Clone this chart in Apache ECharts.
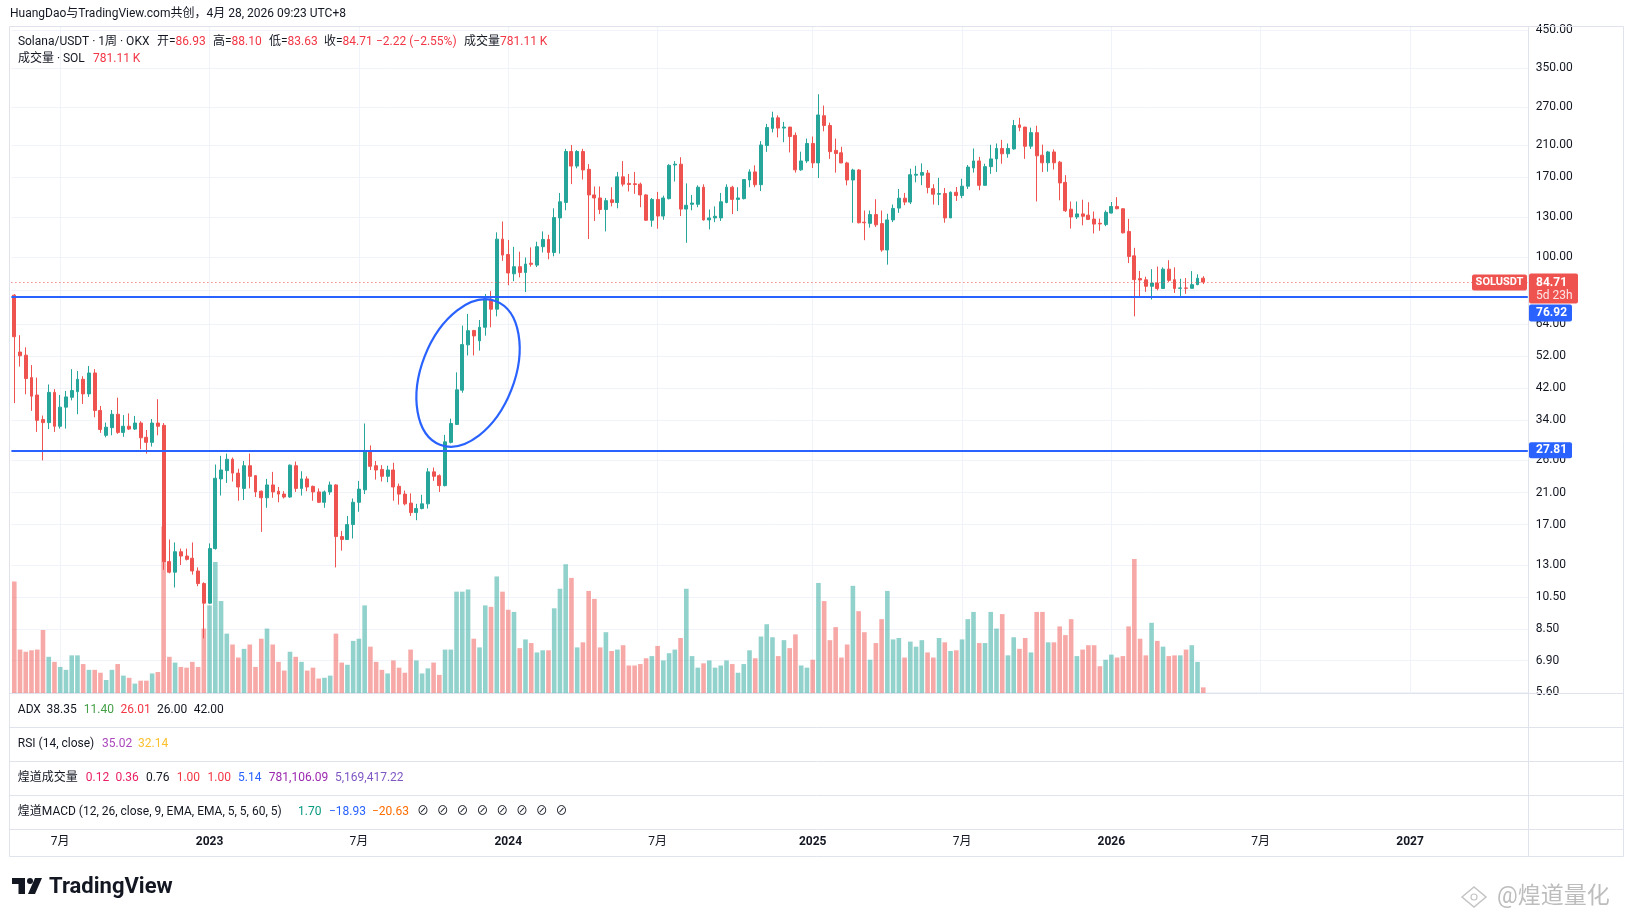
<!DOCTYPE html>
<html>
<head>
<meta charset="utf-8">
<title>Solana/USDT · 1周 · OKX</title>
<script src="https://cdn.jsdelivr.net/npm/echarts@6/dist/echarts.min.js"></script>
<style>
  html, body { margin: 0; padding: 0; background: #ffffff; }
  #chart { width: 1634px; height: 917px; }
</style>
</head>
<body>
<div id="chart"></div>
<script>
// Weekly bars, first bar = week of 2022-05-09 (Monday), last = 2026-04-27
const firstWeek = '2022-05-09';
const totalSlots = 264; // bars + the empty space to the right of the last bar

const opens = [
  77.7, 53.3, 52.2, 45.0, 40.1, 34.1, 33.4, 40.8, 32.6, 37.0,
  39.5, 41.0, 44.5, 40.4, 46.4, 36.2, 30.7, 32.3, 35.3, 31.3,
  32.6, 32.0, 33.3, 30.3, 29.3, 33.3, 32.8, 13.3, 12.4, 14.2,
  13.8, 13.6, 12.5, 11.5, 10.1, 14.5, 23.0, 24.3, 26.2, 23.9,
  21.6, 25.1, 23.5, 21.2, 20.3, 22.1, 21.2, 20.8, 20.4, 25.1,
  21.6, 23.0, 21.9, 21.1, 19.7, 21.1, 22.1, 15.7, 15.4, 17.0,
  19.7, 21.4, 27.6, 25.1, 24.5, 23.4, 24.4, 21.9, 20.8, 19.6,
  18.4, 18.9, 19.5, 24.1, 23.5, 22.0, 29.3, 33.0, 41.4, 55.9,
  61.5, 57.4, 62.8, 75.6, 70.8, 112.6, 101.7, 89.5, 93.8, 90.3,
  96.0, 94.8, 107.1, 112.4, 103.1, 129.6, 143.6, 201.2, 182.7, 201.2,
  178.8, 150.9, 147.9, 137.0, 146.1, 143.5, 170.1, 162.9, 162.5, 162.1,
  150.9, 127.6, 146.5, 131.2, 147.2, 184.0, 185.0, 137.4, 141.8, 141.8,
  158.8, 127.9, 129.6, 129.6, 143.5, 158.8, 146.5, 147.2, 166.6, 175.8,
  161.5, 209.3, 234.5, 251.5, 235.0, 236.5, 223.9, 178.2, 189.0, 212.2,
  186.6, 255.0, 239.0, 202.7, 199.5, 186.5, 166.6, 178.0, 126.0, 125.0,
  132.5, 124.8, 104.8, 127.9, 138.3, 147.7, 143.9, 172.0, 172.0, 174.4,
  157.3, 151.6, 152.3, 129.6, 153.6, 150.3, 159.9, 180.4, 189.0, 160.8,
  182.0, 191.6, 205.3, 198.2, 204.7, 240.0, 236.5, 208.5, 228.0, 196.3,
  186.7, 200.6, 187.5, 164.0, 137.3, 130.4, 133.1, 132.0, 128.6, 125.1,
  124.0, 133.8, 139.8, 137.7, 118.5, 100.8, 86.7, 86.0, 82.4, 84.2,
  81.2, 92.3, 86.1, 81.3, 81.5, 81.3, 83.3, 86.93
];

const highs = [
  78.2, 59.6, 55.0, 48.9, 45.0, 35.0, 43.0, 41.7, 40.1, 41.2,
  47.6, 47.0, 45.4, 48.6, 47.6, 37.3, 33.4, 36.3, 39.4, 35.1,
  35.5, 34.9, 33.7, 31.8, 34.2, 39.0, 33.3, 15.4, 15.1, 14.5,
  14.5, 15.1, 12.8, 11.6, 15.0, 25.3, 26.8, 27.2, 26.5, 24.6,
  25.9, 27.2, 23.6, 21.3, 23.0, 24.1, 21.8, 21.2, 25.3, 25.8,
  24.2, 23.4, 22.0, 21.6, 21.3, 22.6, 22.2, 16.3, 18.0, 20.2,
  22.7, 33.2, 28.7, 25.9, 25.2, 25.1, 25.6, 22.3, 21.3, 20.9,
  19.5, 20.7, 24.7, 24.8, 23.7, 30.8, 34.3, 46.6, 63.5, 68.6,
  61.7, 65.9, 78.3, 79.9, 117.8, 126.5, 112.0, 107.0, 103.6, 99.7,
  106.6, 110.7, 118.5, 115.9, 138.1, 152.9, 204.8, 210.1, 203.0, 204.8,
  185.0, 159.6, 159.6, 147.9, 158.8, 175.8, 188.8, 173.3, 175.8, 163.7,
  151.7, 147.9, 154.0, 150.2, 185.0, 188.8, 193.7, 162.9, 150.9, 160.8,
  161.9, 137.0, 139.9, 152.9, 161.9, 160.3, 158.8, 167.1, 178.8, 183.6,
  215.5, 241.6, 261.9, 255.6, 244.8, 236.9, 228.3, 201.0, 219.2, 222.2,
  294.0, 272.8, 243.6, 219.2, 207.6, 188.0, 179.5, 179.0, 136.1, 136.1,
  146.7, 136.1, 133.2, 141.6, 157.0, 152.9, 179.6, 183.0, 186.0, 178.0,
  162.0, 169.0, 158.0, 154.4, 159.0, 168.0, 184.0, 205.3, 194.2, 185.6,
  210.4, 212.2, 217.4, 212.2, 248.0, 251.5, 236.9, 235.7, 238.7, 210.6,
  202.0, 204.0, 189.0, 172.0, 144.5, 144.5, 146.2, 143.8, 135.2, 129.0,
  136.2, 144.0, 148.7, 138.0, 128.8, 106.3, 91.2, 87.8, 92.3, 93.9,
  93.4, 97.9, 93.4, 86.6, 87.0, 91.1, 89.2, 88.10
];

const lows = [
  38.0, 48.4, 40.3, 36.1, 31.4, 26.0, 32.0, 31.4, 32.1, 32.1,
  38.7, 35.3, 37.8, 39.6, 34.6, 31.2, 30.3, 30.7, 31.0, 30.4,
  31.8, 31.8, 28.0, 27.2, 28.5, 30.7, 12.6, 12.3, 11.2, 13.0,
  13.4, 12.2, 11.3, 8.0, 10.05, 14.4, 20.6, 22.4, 22.6, 19.9,
  20.0, 21.6, 20.4, 16.2, 19.0, 20.3, 19.7, 20.2, 20.3, 21.1,
  20.6, 21.2, 19.9, 19.6, 19.0, 20.7, 12.8, 14.3, 15.4, 15.5,
  18.5, 20.8, 24.4, 22.9, 22.6, 22.5, 19.9, 19.4, 19.3, 18.0,
  17.5, 18.8, 18.9, 22.7, 21.1, 21.9, 29.1, 32.9, 40.7, 52.1,
  52.1, 53.8, 59.4, 62.8, 67.5, 97.5, 83.0, 85.2, 87.4, 79.3,
  93.8, 93.6, 103.1, 98.5, 100.5, 102.3, 136.3, 162.1, 180.0, 167.1,
  112.7, 127.0, 132.9, 118.5, 139.9, 138.1, 159.6, 154.4, 152.0, 139.1,
  127.0, 122.2, 120.7, 128.0, 146.5, 164.9, 131.2, 109.9, 136.3, 139.1,
  127.3, 120.1, 126.0, 127.0, 142.8, 132.9, 135.6, 146.5, 158.8, 158.8,
  154.8, 200.7, 228.3, 221.0, 214.0, 200.0, 174.9, 177.0, 186.5, 180.4,
  168.8, 230.0, 191.6, 174.9, 186.5, 160.8, 125.5, 125.0, 111.8, 121.5,
  122.0, 103.6, 95.1, 126.0, 134.0, 141.0, 142.0, 164.0, 161.0, 152.5,
  141.6, 141.0, 125.5, 129.6, 145.0, 147.7, 157.0, 174.9, 155.6, 160.8,
  173.5, 175.8, 185.6, 193.1, 203.5, 230.1, 191.6, 204.7, 144.5, 175.6,
  176.0, 178.5, 145.6, 134.8, 120.8, 128.7, 123.4, 128.0, 116.9, 119.0,
  122.7, 133.5, 137.3, 116.9, 96.1, 67.5, 76.8, 79.4, 75.5, 80.2,
  81.2, 84.8, 78.8, 77.2, 78.4, 81.2, 83.0, 83.63
];

const closes = [
  59.0, 52.0, 44.7, 39.8, 33.9, 33.4, 40.8, 32.6, 37.0, 39.6,
  41.3, 44.5, 40.4, 46.4, 36.2, 31.9, 32.4, 35.3, 31.3, 32.6,
  32.0, 33.3, 30.2, 29.3, 33.3, 32.6, 13.3, 12.4, 14.2, 13.8,
  13.5, 12.5, 11.5, 10.1, 14.5, 23.1, 24.4, 26.2, 23.9, 21.8,
  25.1, 23.4, 21.1, 20.3, 22.1, 21.1, 20.8, 20.4, 25.2, 21.6,
  23.0, 21.8, 21.1, 19.7, 21.1, 22.1, 15.7, 15.4, 17.0, 19.7,
  21.5, 27.6, 25.0, 24.4, 23.4, 24.4, 21.8, 20.8, 19.5, 18.4,
  18.9, 19.5, 24.1, 23.4, 22.0, 29.4, 33.2, 41.5, 56.0, 61.4,
  59.3, 62.8, 75.7, 70.8, 112.6, 101.3, 90.0, 93.8, 90.3, 95.5,
  95.3, 107.1, 112.4, 103.1, 129.9, 144.2, 201.2, 182.7, 201.2, 178.1,
  150.9, 147.9, 137.0, 145.3, 143.5, 170.1, 162.1, 161.7, 161.7, 150.9,
  127.6, 146.5, 131.2, 147.9, 183.6, 185.0, 137.4, 140.9, 143.0, 158.8,
  127.9, 129.6, 131.0, 144.2, 158.8, 146.5, 147.9, 167.1, 175.8, 161.5,
  210.1, 235.9, 251.5, 235.0, 236.5, 222.2, 178.2, 189.0, 212.2, 186.6,
  256.3, 239.0, 201.0, 198.5, 186.5, 166.6, 178.0, 125.5, 125.5, 132.5,
  123.8, 104.8, 127.9, 138.0, 147.7, 143.9, 172.5, 173.0, 175.0, 158.6,
  151.6, 152.3, 129.6, 153.6, 150.3, 159.9, 181.5, 189.0, 160.8, 182.0,
  191.6, 205.3, 198.2, 205.3, 239.0, 236.0, 208.3, 228.0, 195.5, 186.7,
  200.6, 186.7, 163.4, 135.9, 130.4, 133.1, 131.0, 128.3, 124.4, 124.5,
  134.5, 139.8, 137.7, 117.4, 100.4, 86.1, 85.9, 82.4, 84.2, 81.2,
  92.3, 85.7, 81.2, 81.5, 81.3, 83.3, 86.9, 84.71
];

// weekly volume, millions of SOL
const volumes = [
  15.4, 6.0, 5.7, 5.9, 6.0, 8.7, 5.0, 4.3, 3.6, 3.2,
  5.2, 5.2, 4.0, 3.2, 3.2, 2.8, 1.8, 3.2, 4.0, 2.4,
  2.1, 1.3, 1.7, 1.7, 2.7, 2.9, 23.0, 5.0, 4.2, 3.6,
  3.5, 4.3, 3.6, 8.9, 12.1, 18.1, 12.7, 8.2, 6.7, 4.9,
  6.1, 6.7, 3.6, 7.5, 8.9, 6.7, 4.3, 3.1, 5.7, 5.0,
  4.3, 3.1, 3.5, 2.0, 2.1, 2.4, 8.2, 4.2, 3.9, 7.2,
  7.5, 12.1, 6.4, 4.3, 3.2, 2.7, 4.5, 3.5, 2.8, 6.0,
  4.5, 2.7, 3.4, 4.2, 2.5, 6.0, 6.0, 14.0, 14.0, 14.3,
  7.5, 6.3, 12.1, 11.9, 16.1, 14.0, 11.5, 11.2, 6.2, 7.4,
  6.9, 5.6, 5.9, 5.9, 11.7, 14.4, 17.8, 15.9, 6.3, 7.0,
  14.1, 13.0, 6.3, 8.4, 5.8, 6.0, 6.6, 3.8, 3.8, 4.0,
  4.8, 5.1, 6.5, 4.5, 5.5, 6.0, 7.6, 14.4, 5.1, 3.5,
  4.1, 4.5, 3.5, 3.8, 4.5, 4.0, 2.8, 4.0, 5.9, 4.8,
  7.8, 9.5, 7.7, 5.1, 7.3, 6.2, 8.1, 3.8, 3.5, 4.6,
  15.2, 12.7, 7.3, 9.1, 4.9, 6.7, 14.8, 11.3, 8.4, 4.6,
  6.9, 10.2, 14.1, 7.4, 7.6, 4.9, 7.1, 6.4, 7.3, 5.6,
  4.9, 7.6, 7.0, 5.8, 5.9, 7.4, 10.2, 11.2, 6.9, 6.9,
  11.2, 8.9, 10.9, 5.2, 7.7, 6.1, 7.6, 5.6, 11.2, 11.2,
  7.0, 7.0, 9.2, 8.0, 10.2, 5.1, 6.0, 6.6, 6.6, 3.7,
  4.6, 5.3, 4.9, 5.1, 9.2, 18.5, 7.5, 5.2, 9.7, 7.2,
  6.4, 5.1, 5.2, 5.2, 6.0, 6.6, 4.3, 0.78
];

// price scale labels (log axis)
const priceTicks = [5.6, 6.9, 8.5, 10.5, 13, 17, 21, 26, 34, 42, 52, 64, 80, 100, 130, 170, 210, 270, 350, 450];
const levelLines = [76.92, 27.81];
const lastPrice = 84.71;

const UP = '#26a69a';
const DOWN = '#ef5350';
const BLUE = '#2962ff';
const INK = '#131722';
const BORDER = '#e0e3eb';
const GRID = '#f0f3fa';
const FONT = 'Roboto, "Noto Sans CJK SC", sans-serif';

function weekDates(start, count) {
  const t0 = Date.parse(start + 'T00:00:00Z');
  const out = [];
  for (let i = 0; i < count; i++) {
    out.push(new Date(t0 + i * 7 * 86400000).toISOString().slice(0, 10));
  }
  return out;
}

// first weekly bar of January / July gets a label + vertical grid line
function isPeriodStart(value) {
  const d = new Date(value + 'T00:00:00Z');
  return d.getUTCDate() <= 7 && (d.getUTCMonth() === 0 || d.getUTCMonth() === 6);
}

const dates = weekDates(firstWeek, totalSlots);
const candleData = opens.map((o, i) => [o, closes[i], lows[i], highs[i]]);
const volumeData = volumes.map((v, i) => ({
  value: v,
  itemStyle: { color: closes[i] >= opens[i] ? 'rgba(38,166,154,0.5)' : 'rgba(239,83,80,0.5)' }
}));

const chart = echarts.init(document.getElementById('chart'));

chart.setOption({
  animation: false,
  backgroundColor: '#ffffff',
  grid: { left: 11.4, top: 27, width: 1516.4, height: 666, containLabel: false, outerBoundsMode: 'none' },
  xAxis: {
    type: 'category',
    data: dates,
    boundaryGap: true,
    axisLine: { show: false },
    axisTick: { show: false, alignWithLabel: true },
    axisLabel: {
      interval: (idx, val) => isPeriodStart(val),
      margin: 143,
      color: INK,
      fontSize: 12,
      fontFamily: FONT,
      formatter: function (val) {
        const d = new Date(val + 'T00:00:00Z');
        return d.getUTCMonth() === 0 ? '{y|' + d.getUTCFullYear() + '}' : '7月';
      },
      rich: { y: { fontWeight: 'bold', fontSize: 12, color: INK, fontFamily: FONT } }
    },
    splitLine: {
      show: true,
      alignWithLabel: true,
      interval: (idx, val) => isPeriodStart(val),
      lineStyle: { color: GRID, width: 1 }
    }
  },
  yAxis: [
    {
      type: 'log',
      logBase: 10,
      position: 'right',
      min: 5.57,
      max: 459,
      axisLine: { show: false },
      axisTick: { show: false, customValues: priceTicks },
      axisLabel: {
        customValues: priceTicks,
        formatter: v => Number(v).toFixed(2),
        color: INK,
        fontSize: 12,
        fontFamily: FONT,
        margin: 8
      },
      splitLine: { show: true, lineStyle: { color: GRID, width: 1 } }
    },
    { type: 'value', min: 0, max: 92, show: false, splitLine: { show: false } }
  ],
  series: [
    {
      name: '成交量',
      type: 'bar',
      xAxisIndex: 0,
      yAxisIndex: 1,
      data: volumeData,
      barWidth: 4.6,
      silent: true,
      z: 2
    },
    {
      name: 'SOLUSDT',
      type: 'candlestick',
      xAxisIndex: 0,
      yAxisIndex: 0,
      data: candleData,
      barWidth: 3.4,
      silent: true,
      z: 3,
      itemStyle: { color: UP, color0: DOWN, borderColor: UP, borderColor0: DOWN, borderWidth: 1 },
      markLine: {
        silent: true,
        animation: false,
        symbol: ['none', 'none'],
        label: { show: false },
        emphasis: { disabled: true },
        data: [
          { yAxis: lastPrice, lineStyle: { color: DOWN, width: 1, type: [1, 3] } },
          { yAxis: levelLines[0], lineStyle: { color: BLUE, width: 2, type: 'solid' } },
          { yAxis: levelLines[1], lineStyle: { color: BLUE, width: 2, type: 'solid' } }
        ]
      }
    }
  ]
});

// ---- overlay: frame, legend texts, price tags, hand drawn ellipse ----
const measureCtx = document.createElement('canvas').getContext('2d');
function textWidth(str, font) {
  measureCtx.font = font;
  return measureCtx.measureText(str).width;
}

function txt(x, y, text, color, font, extra) {
  return Object.assign({
    type: 'text', x: x, y: y, z: 100, silent: true,
    style: {
      text: text, fill: color, font: font,
      textAlign: 'left', textVerticalAlign: 'middle', align: 'left', verticalAlign: 'middle'
    }
  }, extra || {});
}

// consecutive colored pieces of one line
function run(x, y, parts, font) {
  const out = [];
  let cx = x;
  parts.forEach(([str, color]) => {
    out.push(txt(cx, y, str, color, font));
    cx += textWidth(str, font);
  });
  return out;
}

function hline(x1, x2, y, color) {
  return { type: 'line', z: 90, silent: true, shape: { x1: x1, y1: y, x2: x2, y2: y }, style: { stroke: color, lineWidth: 1 } };
}
function vline(x, y1, y2, color) {
  return { type: 'line', z: 90, silent: true, shape: { x1: x, y1: y1, x2: x, y2: y2 }, style: { stroke: color, lineWidth: 1 } };
}
function tag(x, y, w, h, color) {
  return { type: 'rect', z: 100, silent: true, shape: { x: x, y: y, width: w, height: h, r: 2 }, style: { fill: color } };
}

function buildOverlay() {
  const f12 = '12px ' + FONT;
  const f13 = '13px ' + FONT;
  const RED = '#f23645';
  const els = [];

  // frame and pane separators
  els.push({ type: 'rect', z: 90, silent: true, shape: { x: 9.5, y: 26.5, width: 1614, height: 830 }, style: { fill: 'none', stroke: BORDER, lineWidth: 1 } });
  els.push(vline(1528.5, 26.5, 856.5, BORDER));
  [693.5, 727.5, 761.5, 795.5, 829.5].forEach(y => els.push(hline(9.5, 1623.5, y, BORDER)));

  // header
  els.push(txt(10, 14, 'HuangDao与TradingView.com共创，4月 28, 2026 09:23 UTC+8', INK, f12));

  // legend
  els.push(txt(17.9, 42, 'Solana/USDT · 1周 · OKX', INK, f12));
  els.push(...run(157, 42, [['开=', INK], ['86.93', RED]], f12));
  els.push(...run(213, 42, [['高=', INK], ['88.10', RED]], f12));
  els.push(...run(269, 42, [['低=', INK], ['83.63', RED]], f12));
  els.push(...run(324, 42, [['收=', INK], ['84.71', RED]], f12));
  els.push(txt(376, 42, '−2.22 (−2.55%)', RED, f12));
  els.push(...run(464, 42, [['成交量', INK], ['781.11 K', RED]], f12));
  els.push(txt(17.9, 59, '成交量 · SOL', INK, f12));
  els.push(txt(93, 59, '781.11 K', RED, f12));

  // indicator rows
  const rows = [
    [710, [[17.8, 'ADX', INK], [46.6, '38.35', INK], [83.8, '11.40', '#43a047'], [120.6, '26.01', RED], [157, '26.00', INK], [193.7, '42.00', INK]]],
    [744, [[17.8, 'RSI (14, close)', INK], [102, '35.02', '#ab47bc'], [138, '32.14', '#fbc02d']]],
    [778, [[17.8, '煌道成交量', INK], [85.8, '0.12', '#e91e63'], [115.4, '0.36', '#e91e63'], [146, '0.76', INK],
           [176.7, '1.00', RED], [207.5, '1.00', RED], [238, '5.14', BLUE], [268.8, '781,106.09', '#9c27b0'], [335, '5,169,417.22', '#7e57c2']]],
    [812, [[17.8, '煌道MACD (12, 26, close, 9, EMA, EMA, 5, 5, 60, 5)', INK], [298, '1.70', '#089981'], [329, '−18.93', BLUE], [372, '−20.63', '#ff6d00']]]
  ];
  rows.forEach(([y, items]) => items.forEach(([x, s, c]) => els.push(txt(x, y, s, c, f12))));
  for (let k = 0; k < 8; k++) {
    els.push(txt(417 + k * 19.8, 812, '⊘', INK, f12));
  }

  // price tags on the right scale
  const yLast = chart.convertToPixel({ yAxisIndex: 0 }, lastPrice);
  const yHi = chart.convertToPixel({ yAxisIndex: 0 }, levelLines[0]);
  const yLo = chart.convertToPixel({ yAxisIndex: 0 }, levelLines[1]);

  els.push(tag(1472, yLast - 7.5, 55, 16, DOWN));
  els.push(txt(1499.5, yLast + 0.5, 'SOLUSDT', '#ffffff', 'bold 11px ' + FONT, {
    style: { text: 'SOLUSDT', fill: '#ffffff', font: 'bold 11px ' + FONT, textAlign: 'center', textVerticalAlign: 'middle', align: 'center', verticalAlign: 'middle' }
  }));
  els.push(tag(1529, yLast - 8.5, 49, 30, DOWN));
  els.push(txt(1536, yLast + 0.5, '84.71', '#ffffff', 'bold 12px ' + FONT));
  els.push(txt(1536, yLast + 14, '5d 23h', 'rgba(255,255,255,0.85)', f12));

  // 76.92 tag is pushed below the last-price tag
  const hiTop = Math.max(yHi - 8, yLast + 22.5);
  els.push(tag(1529, hiTop, 43, 17, BLUE));
  els.push(txt(1536, hiTop + 8.5, '76.92', '#ffffff', 'bold 12px ' + FONT));
  els.push(tag(1529, yLo - 8, 43, 16, BLUE));
  els.push(txt(1536, yLo, '27.81', '#ffffff', 'bold 12px ' + FONT));

  // hand drawn ellipse around the Oct-Dec 2023 breakout
  const c = chart.convertToPixel({ xAxisIndex: 0, yAxisIndex: 0 }, [79, 46.4]);
  els.push({
    type: 'ellipse', z: 95, silent: true,
    x: c[0], y: c[1], rotation: -0.373,
    shape: { cx: 0, cy: 0, rx: 46.5, ry: 77 },
    style: { fill: 'none', stroke: BLUE, lineWidth: 2.2 }
  });

  // TradingView logo
  els.push({ type: 'rect', z: 100, silent: true, shape: { x: 12, y: 878, width: 13, height: 6 }, style: { fill: INK } });
  els.push({ type: 'rect', z: 100, silent: true, shape: { x: 18.5, y: 878, width: 6.5, height: 16 }, style: { fill: INK } });
  els.push({ type: 'circle', z: 100, silent: true, shape: { cx: 30, cy: 881, r: 3 }, style: { fill: INK } });
  els.push({ type: 'polygon', z: 100, silent: true, shape: { points: [[35, 878], [42, 878], [35, 894], [28, 894]] }, style: { fill: INK } });
  els.push(txt(49, 887, 'TradingView', INK, 'bold 22px ' + FONT));

  // watermark
  els.push({
    type: 'polygon', z: 100, silent: true,
    shape: { points: [[1462, 897], [1474, 887], [1486, 897], [1474, 907]] },
    style: { fill: 'none', stroke: '#c4c4c4', lineWidth: 1.5 }
  });
  els.push({ type: 'circle', z: 100, silent: true, shape: { cx: 1474, cy: 897, r: 3 }, style: { fill: 'none', stroke: '#c4c4c4', lineWidth: 1.2 } });
  els.push(txt(1497, 897, '@煌道量化', '#bdbdbd', '23px ' + FONT));

  return els;
}

chart.setOption({ graphic: buildOverlay() });
</script>
</body>
</html>
